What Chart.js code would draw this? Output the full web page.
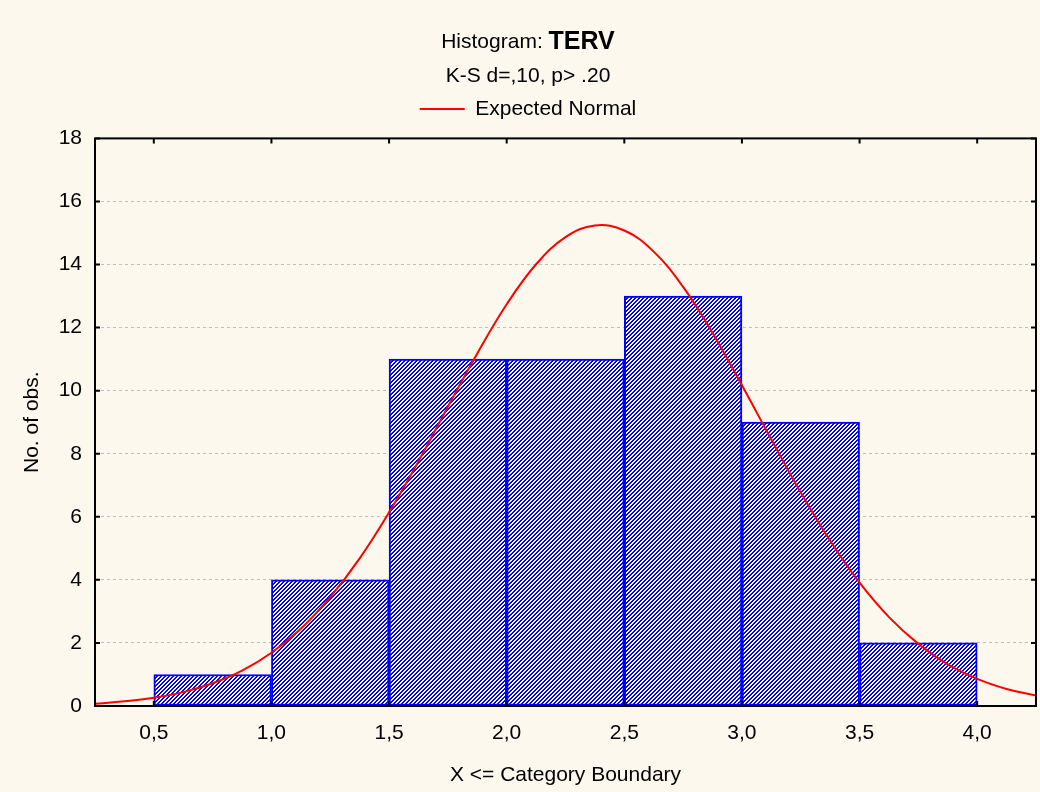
<!DOCTYPE html>
<html>
<head>
<meta charset="utf-8">
<title>Histogram: TERV</title>
<script src="https://cdn.jsdelivr.net/npm/chart.js@4/dist/chart.umd.min.js"></script>
<style>
  html, body { margin: 0; padding: 0; background: #fcf8ee; }
  #wrap { width: 1040px; height: 792px; position: relative; }
</style>
</head>
<body>
<div id="wrap"><canvas id="histChart" width="1040" height="792"></canvas></div>
<script>
// =====================
// Data
// =====================
const binCenters = [0.75, 1.25, 1.75, 2.25, 2.75, 3.25, 3.75];
const binCounts = [1, 4, 11, 11, 13, 9, 2];

// expected normal curve, sampled along the x axis
const normalX = [0.25, 0.375, 0.5, 0.625, 0.75, 0.875, 1.0, 1.125, 1.25, 1.375, 1.5, 1.625, 1.75, 1.875,
                 2.0, 2.125, 2.25, 2.375, 2.5, 2.625, 2.75, 2.875, 3.0, 3.125, 3.25, 3.375, 3.5, 3.625,
                 3.75, 3.875, 4.0, 4.125, 4.25];
const normalY = [0.07, 0.15, 0.26, 0.44, 0.72, 1.12, 1.69, 2.45, 3.45, 4.68, 6.14, 7.76, 9.49, 11.18,
                 12.74, 14.01, 14.87, 15.24, 15.08, 14.41, 13.29, 11.83, 10.17, 8.45, 6.77, 5.24, 3.91, 2.82,
                 1.97, 1.32, 0.86, 0.54, 0.33];

const xTicks = [0.5, 1.0, 1.5, 2.0, 2.5, 3.0, 3.5, 4.0];
const xTickLabels = ['0,5', '1,0', '1,5', '2,0', '2,5', '3,0', '3,5', '4,0'];
const yTicks = [0, 2, 4, 6, 8, 10, 12, 14, 16, 18];

// =====================
// Hatch fill for the bars
// =====================
function makeHatch() {
  const c = document.createElement('canvas');
  c.width = 4;
  c.height = 4;
  const g = c.getContext('2d');
  g.fillStyle = '#ffffff';
  g.fillRect(0, 0, 4, 4);
  g.fillStyle = '#0000ff';
  for (let x = 0; x < 4; x++) {
    for (let y = 0; y < 4; y++) {
      const d = (x + y) % 4;
      if (d === 0 || d === 1) g.fillRect(x, y, 1, 1);
    }
  }
  return g.createPattern(c, 'repeat');
}

// =====================
// Frame + inward tick marks, and the mixed-weight title
// =====================
const framePlugin = {
  id: 'frame',
  afterDatasetsDraw(chart) {
    const { ctx, chartArea: a, scales } = chart;
    ctx.save();
    ctx.strokeStyle = '#000000';
    ctx.lineWidth = 2;
    ctx.strokeRect(a.left, a.top, a.right - a.left, a.bottom - a.top);
    ctx.beginPath();
    yTicks.forEach(v => {
      const y = scales.y.getPixelForValue(v);
      ctx.moveTo(a.left, y); ctx.lineTo(a.left + 5, y);
      ctx.moveTo(a.right, y); ctx.lineTo(a.right - 5, y);
    });
    xTicks.forEach(v => {
      const x = scales.x.getPixelForValue(v);
      ctx.moveTo(x, a.top); ctx.lineTo(x, a.top + 5);
      ctx.moveTo(x, a.bottom); ctx.lineTo(x, a.bottom - 5);
    });
    ctx.stroke();
    ctx.restore();
  },
  afterDraw(chart) {
    const t = chart.titleBlock;
    if (!t) return;
    const { ctx } = chart;
    const normal = '21px "Liberation Sans", Arial, sans-serif';
    const bold = 'bold 25px "Liberation Sans", Arial, sans-serif';
    const partA = 'Histogram: ';
    const partB = 'TERV';
    ctx.save();
    ctx.font = normal;
    const wA = ctx.measureText(partA).width;
    ctx.font = bold;
    const wB = ctx.measureText(partB).width;
    const cx = (t.left + t.right) / 2;
    const cy = t.top + 30 + 12.6;
    let x = cx - (wA + wB) / 2;
    ctx.textBaseline = 'middle';
    ctx.fillStyle = '#000000';
    ctx.font = normal;
    ctx.fillText(partA, x, cy);
    ctx.font = bold;
    ctx.fillText(partB, x + wA, cy);
    ctx.restore();
  }
};

// =====================
// Chart
// =====================
const font = '"Liberation Sans", Arial, sans-serif';
const ctx = document.getElementById('histChart').getContext('2d');

new Chart(ctx, {
  type: 'bar',
  data: {
    datasets: [
      {
        type: 'line',
        label: 'Expected Normal',
        data: normalX.map((x, i) => ({ x: x, y: normalY[i] })),
        borderColor: '#ff0000',
        backgroundColor: '#ff0000',
        borderWidth: 2,
        pointRadius: 0,
        pointStyle: 'line',
        tension: 0.4,
        order: 0
      },
      {
        type: 'bar',
        label: '',
        data: binCenters.map((x, i) => ({ x: x, y: binCounts[i] })),
        backgroundColor: makeHatch(),
        borderColor: '#0000ff',
        borderWidth: 2,
        borderSkipped: false,
        barPercentage: 1,
        categoryPercentage: 1,
        order: 1
      }
    ]
  },
  options: {
    responsive: false,
    animation: false,
    layout: { padding: { top: 0, right: 4, bottom: 0, left: 20 } },
    plugins: {
      tooltip: { enabled: false },
      title: {
        display: true,
        text: 'Histogram: TERV',
        color: 'rgba(0,0,0,0)',
        font: { family: font, size: 21, weight: 'normal' },
        padding: { top: 27, bottom: 0 }
      },
      subtitle: {
        display: true,
        text: 'K-S d=,10, p> .20',
        color: '#000000',
        font: { family: font, size: 21 },
        padding: { top: 11, bottom: 0 }
      },
      legend: {
        display: true,
        labels: {
          usePointStyle: true,
          pointStyleWidth: 45,
          padding: 10,
          color: '#000000',
          font: { family: font, size: 21 },
          filter: item => item.text !== ''
        }
      }
    },
    scales: {
      x: {
        type: 'linear',
        min: 0.25,
        max: 4.25,
        offset: false,
        afterBuildTicks: scale => { scale.ticks = xTicks.map(v => ({ value: v })); },
        afterFit: scale => { scale.height = 86; },
        grid: { display: false, drawTicks: false },
        border: { display: false },
        ticks: {
          padding: 15,
          color: '#000000',
          font: { family: font, size: 21 },
          callback: (v) => xTickLabels[xTicks.indexOf(v)]
        },
        title: {
          display: true,
          text: 'X <= Category Boundary',
          color: '#000000',
          font: { family: font, size: 21 },
          padding: { top: 0, bottom: 4 }
        }
      },
      // empty spacer between the legend and the plot frame
      xTop: {
        type: 'linear',
        position: 'top',
        min: 0,
        max: 1,
        afterFit: scale => { scale.height = 9; },
        grid: { display: false, drawTicks: false },
        border: { display: false },
        ticks: { display: false }
      },
      y: {
        min: 0,
        max: 18,
        afterBuildTicks: scale => { scale.ticks = yTicks.map(v => ({ value: v })); },
        afterFit: scale => { scale.width = 75; },
        grid: {
          color: '#bdbdbd',
          lineWidth: 1,
          drawTicks: false
        },
        border: { display: false, dash: [3, 3] },
        ticks: {
          padding: 13,
          color: '#000000',
          font: { family: font, size: 21 }
        },
        title: {
          display: true,
          text: 'No. of obs.',
          color: '#000000',
          font: { family: font, size: 21 },
          padding: { top: 0, bottom: 0 }
        }
      }
    }
  },
  plugins: [framePlugin]
});
</script>
</body>
</html>
